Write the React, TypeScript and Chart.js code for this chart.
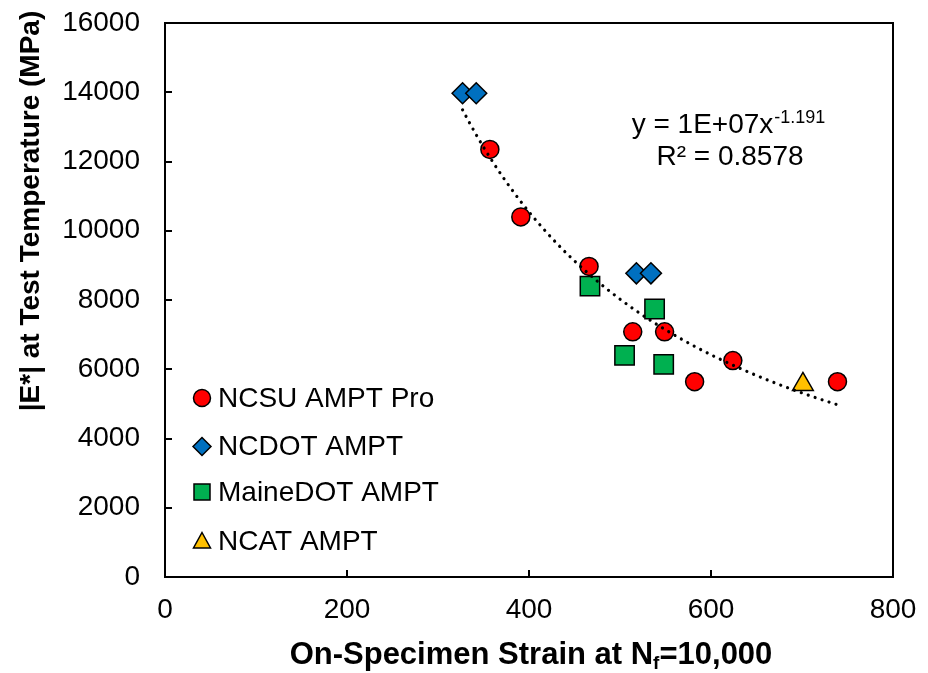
import React, { useEffect, useRef } from 'react';
import { Chart, registerables } from 'chart.js';

Chart.register(...registerables);

const FONT = '"Liberation Sans", Arial, sans-serif';

// ---- data ----
const NCSU_X = [357, 391, 466, 514, 549, 582, 624, 739];
const NCSU_Y = [12350, 10400, 8970, 7080, 7080, 5640, 6250, 5640];
const NCDOT_X = [327, 342, 518, 534];
const NCDOT_Y = [13970, 13970, 8770, 8770];
const MAINE_X = [467, 505, 538, 548];
const MAINE_Y = [8400, 6400, 7740, 6140];
const NCAT_X = [701];
const NCAT_Y = [5560];

const SERIES_LABELS = ['NCSU AMPT Pro', 'NCDOT AMPT', 'MaineDOT AMPT', 'NCAT AMPT'];
const SERIES_COLORS = ['#FF0000', '#0070C0', '#00B050', '#FFC000'];
const SERIES_STYLES = ['circle', 'rectRot', 'rect', 'triangle'];

const X_TICKS = [0, 200, 400, 600, 800];
const Y_TICKS = [0, 2000, 4000, 6000, 8000, 10000, 12000, 14000, 16000];

const EQ_MAIN = 'y = 1E+07x';
const EQ_EXP = '-1.191';
const EQ_R2 = 'R² = 0.8578';
const X_TITLE_MAIN = 'On-Specimen Strain at N';
const X_TITLE_SUB = 'f';
const X_TITLE_END = '=10,000';
const Y_TITLE = '|E*| at Test Temperature (MPa)';

function powerFit(xs: number[], ys: number[]) {
  const lx = xs.map(Math.log);
  const ly = ys.map(Math.log);
  const n = lx.length;
  const mx = lx.reduce((s, v) => s + v, 0) / n;
  const my = ly.reduce((s, v) => s + v, 0) / n;
  let sxy = 0, sxx = 0;
  for (let i = 0; i < n; i++) {
    sxy += (lx[i] - mx) * (ly[i] - my);
    sxx += (lx[i] - mx) * (lx[i] - mx);
  }
  const b = sxy / sxx;
  const a = Math.exp(my - b * mx);
  return { a, b };
}

function drawMarker(ctx: CanvasRenderingContext2D, style: string, x: number, y: number, fill: string) {
  ctx.beginPath();
  if (style === 'circle') {
    ctx.arc(x, y, 8.5, 0, Math.PI * 2);
  } else if (style === 'rectRot') {
    const r = 9;
    ctx.moveTo(x - r, y);
    ctx.lineTo(x, y - r);
    ctx.lineTo(x + r, y);
    ctx.lineTo(x, y + r);
    ctx.closePath();
  } else if (style === 'rect') {
    ctx.rect(x - 8, y - 8, 16, 16);
  } else {
    ctx.moveTo(x, y - 9);
    ctx.lineTo(x + 8.5, y + 6.5);
    ctx.lineTo(x - 8.5, y + 6.5);
    ctx.closePath();
  }
  ctx.fillStyle = fill;
  ctx.fill();
  ctx.lineWidth = 1.5;
  ctx.strokeStyle = '#000';
  ctx.stroke();
}

export default function App() {
  const ref = useRef<HTMLCanvasElement>(null);

  useEffect(() => {
    const canvas = ref.current;
    if (!canvas) return;

    const allX = [...NCSU_X, ...NCDOT_X, ...MAINE_X, ...NCAT_X];
    const allY = [...NCSU_Y, ...NCDOT_Y, ...MAINE_Y, ...NCAT_Y];
    const { a, b } = powerFit(allX, allY);
    const xmin = Math.min(...allX);
    const xmax = Math.max(...allX);
    const trend: { x: number; y: number }[] = [];
    const N = 100;
    for (let i = 0; i <= N; i++) {
      const x = xmin + ((xmax - xmin) * i) / N;
      trend.push({ x, y: a * Math.pow(x, b) });
    }
    const toPts = (xs: number[], ys: number[]) => xs.map((x, i) => ({ x, y: ys[i] }));
    const seriesX = [NCSU_X, NCDOT_X, MAINE_X, NCAT_X];
    const seriesY = [NCSU_Y, NCDOT_Y, MAINE_Y, NCAT_Y];
    const radii = [9, 10.5, 13.7, 12];

    const pointSets = SERIES_LABELS.map((label, i) => ({
      label,
      data: toPts(seriesX[i], seriesY[i]),
      pointStyle: SERIES_STYLES[i],
      pointRadius: radii[i],
      pointHoverRadius: radii[i],
      backgroundColor: SERIES_COLORS[i],
      borderColor: '#000',
      borderWidth: 1.5,
      showLine: false,
      order: 1,
    }));

    const overlay = {
      id: 'overlay',
      afterDraw(chart: any) {
        const { ctx, chartArea: ca, scales } = chart;
        const xs = scales.x;
        const ys = scales.y;
        ctx.save();
        // plot box
        ctx.strokeStyle = '#000';
        ctx.lineWidth = 2;
        ctx.strokeRect(ca.left, ca.top, ca.right - ca.left, ca.bottom - ca.top);
        // inward ticks
        ctx.beginPath();
        for (const v of Y_TICKS) {
          const py = Math.round(ys.getPixelForValue(v));
          ctx.moveTo(ca.left, py);
          ctx.lineTo(ca.left + 7, py);
        }
        for (const v of X_TICKS) {
          const px = Math.round(xs.getPixelForValue(v));
          ctx.moveTo(px, ca.bottom);
          ctx.lineTo(px, ca.bottom - 7);
        }
        ctx.stroke();

        // legend
        const legY = [398, 446.5, 492, 541.5];
        ctx.font = `28px ${FONT}`;
        ctx.textAlign = 'left';
        ctx.textBaseline = 'middle';
        SERIES_LABELS.forEach((label, i) => {
          drawMarker(ctx, SERIES_STYLES[i], 202, legY[i], SERIES_COLORS[i]);
          ctx.fillStyle = '#000';
          ctx.fillText(label, 218, legY[i] + 1);
        });

        // equation
        ctx.textBaseline = 'alphabetic';
        ctx.fillStyle = '#000';
        ctx.font = `28px ${FONT}`;
        const wm = ctx.measureText(EQ_MAIN).width;
        ctx.font = `18px ${FONT}`;
        const we = ctx.measureText(EQ_EXP).width;
        const eqCx = 728;
        const x0 = eqCx - (wm + we) / 2;
        ctx.font = `28px ${FONT}`;
        ctx.fillText(EQ_MAIN, x0, 133);
        ctx.font = `18px ${FONT}`;
        ctx.fillText(EQ_EXP, x0 + wm + 1, 123);
        ctx.font = `28px ${FONT}`;
        ctx.textAlign = 'center';
        ctx.fillText(EQ_R2, 730, 165);

        // x title
        ctx.textAlign = 'left';
        ctx.font = `bold 31px ${FONT}`;
        const w1 = ctx.measureText(X_TITLE_MAIN).width;
        const w3 = ctx.measureText(X_TITLE_END).width;
        ctx.font = `bold 19px ${FONT}`;
        const w2 = ctx.measureText(X_TITLE_SUB).width;
        const tcx = (ca.left + ca.right) / 2 + 2;
        let tx = tcx - (w1 + w2 + w3) / 2;
        const tb = 664;
        ctx.font = `bold 31px ${FONT}`;
        ctx.fillText(X_TITLE_MAIN, tx, tb);
        tx += w1;
        ctx.font = `bold 19px ${FONT}`;
        ctx.fillText(X_TITLE_SUB, tx, tb + 5);
        tx += w2;
        ctx.font = `bold 31px ${FONT}`;
        ctx.fillText(X_TITLE_END, tx, tb);

        // y title
        ctx.save();
        ctx.translate(31, 211);
        ctx.rotate(-Math.PI / 2);
        ctx.textAlign = 'center';
        ctx.textBaseline = 'middle';
        ctx.font = `bold 28px ${FONT}`;
        ctx.fillText(Y_TITLE, 0, 0);
        ctx.restore();

        ctx.restore();
      },
    };

    const chart = new Chart(canvas, {
      type: 'scatter',
      data: {
        datasets: [
          {
            label: 'Power trend',
            data: trend,
            showLine: true,
            pointRadius: 0,
            pointHoverRadius: 0,
            borderColor: '#000',
            borderWidth: 3.2,
            borderDash: [0.01, 7.3],
            borderCapStyle: 'round',
            fill: false,
            tension: 0,
            order: 0,
          } as any,
          ...pointSets,
        ],
      },
      options: {
        responsive: false,
        animation: false,
        events: [],
        layout: { padding: { top: 23, right: 35, left: 0, bottom: 0 } },
        plugins: {
          legend: { display: false },
          tooltip: { enabled: false },
        },
        scales: {
          x: {
            type: 'linear',
            min: 0,
            max: 800,
            ticks: {
              stepSize: 200,
              padding: 16,
              color: '#000',
              font: { family: FONT, size: 28 },
              maxRotation: 0,
              callback: (v: any) => String(v),
            },
            grid: { display: false, drawTicks: false },
            border: { display: false },
            afterFit: (s: any) => {
              s.height = 96;
              s.paddingLeft = 0;
              s.paddingRight = 0;
            },
          },
          y: {
            type: 'linear',
            min: 0,
            max: 16000,
            ticks: {
              stepSize: 2000,
              padding: 25,
              color: '#000',
              font: { family: FONT, size: 28 },
              callback: (v: any) => String(v),
            },
            grid: { display: false, drawTicks: false },
            border: { display: false },
            afterFit: (s: any) => {
              s.width = 165;
              s.paddingTop = 0;
              s.paddingBottom = 0;
            },
          },
        },
      } as any,
      plugins: [overlay],
    });

    return () => chart.destroy();
  }, []);

  return (
    <div style={{ position: 'fixed', left: 0, top: 0, width: 928, height: 673, background: '#fff' }}>
      <canvas ref={ref} width={928} height={673} style={{ width: 928, height: 673, display: 'block' }} />
    </div>
  );
}
